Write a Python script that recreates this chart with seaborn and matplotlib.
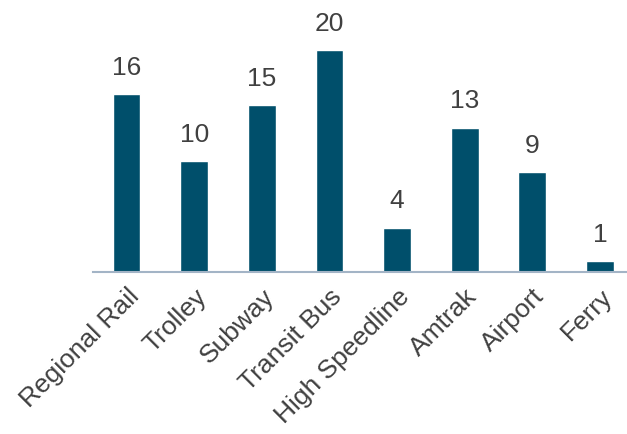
import matplotlib
matplotlib.use("Agg")
import matplotlib.pyplot as plt
import seaborn as sns
import pandas as pd

modes = ["Regional Rail", "Trolley", "Subway", "Transit Bus",
         "High Speedline", "Amtrak", "Airport", "Ferry"]
counts = [16, 10, 15, 20, 4, 13, 9, 1]

sns.set_style("white")
plt.rcParams["font.family"] = ["Liberation Sans", "DejaVu Sans"]

df = pd.DataFrame({"mode": modes, "count": counts})

fig = plt.figure(figsize=(6.27, 4.35), dpi=100)
ax = fig.add_axes([0.148, 0.372, 0.852, 0.562])
sns.barplot(data=df, x="mode", y="count", color="#004f6b", width=0.41,
            saturation=1, ax=ax)

for c in ax.containers:
    ax.bar_label(c, padding=11, fontsize=19, color="#404040")

ax.set_xlim(-0.5, 7.4)
ax.set_ylim(0, 22)
ax.set_xlabel("")
ax.set_ylabel("")
ax.set_yticks([])
for s in ["top", "right", "left"]:
    ax.spines[s].set_visible(False)
ax.spines["bottom"].set_color("#a3b4c6")
ax.spines["bottom"].set_linewidth(1.5)
ax.tick_params(axis="x", length=0, pad=8, labelsize=19, labelcolor="#404040")
plt.setp(ax.get_xticklabels(), rotation=45, ha="right", rotation_mode="anchor")

fig.savefig("out.png", dpi=100)
